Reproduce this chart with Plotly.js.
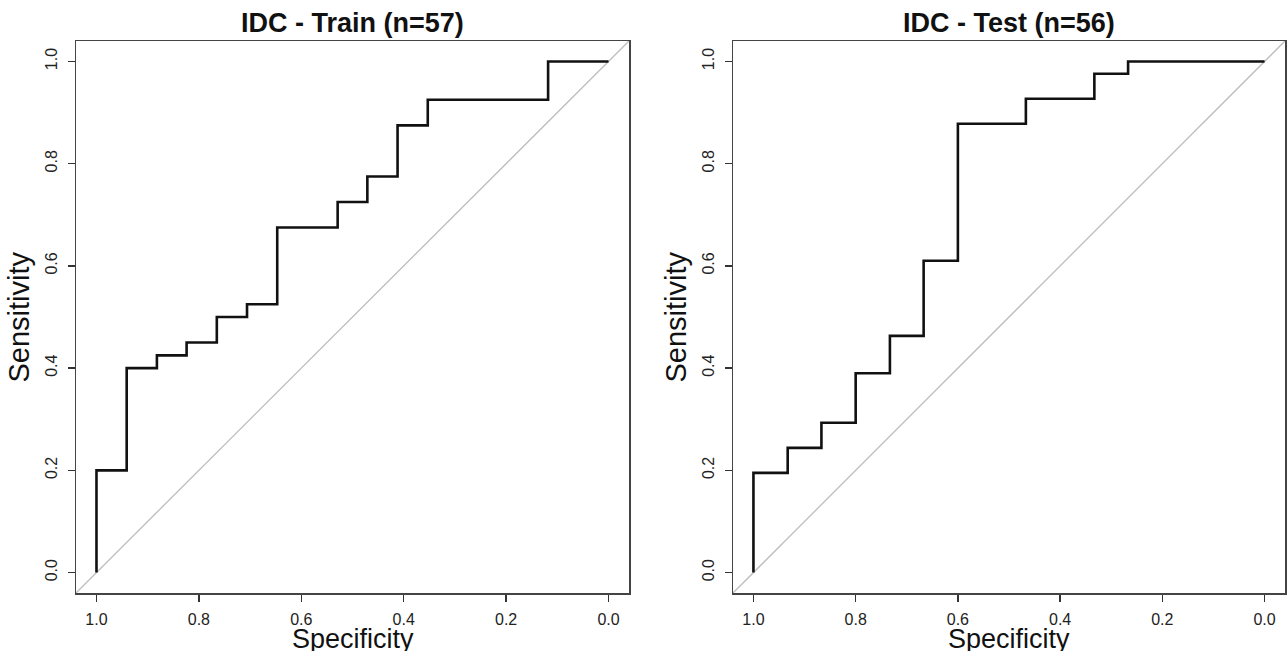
<!DOCTYPE html>
<html>
<head>
<meta charset="utf-8">
<script src="https://cdn.plot.ly/plotly-3.0.1.min.js"></script>
<style>
  html, body { margin: 0; padding: 0; background: #ffffff; }
  #chart { width: 1288px; height: 651px; }
</style>
</head>
<body>
<div id="chart"></div>
<script>
// ---- Data (ROC curve vertices) ----
const panelTitles = ["IDC - Train (n=57)", "IDC - Test (n=56)"];

const trainSpecificity = [1, 1, 0.941, 0.941, 0.882, 0.882, 0.824, 0.824, 0.765, 0.765, 0.706, 0.706,
                          0.647, 0.647, 0.529, 0.529, 0.471, 0.471, 0.412, 0.412, 0.353, 0.353, 0.118, 0.118, 0];
const trainSensitivity = [0, 0.2, 0.2, 0.4, 0.4, 0.425, 0.425, 0.45, 0.45, 0.5, 0.5, 0.525,
                          0.525, 0.675, 0.675, 0.725, 0.725, 0.775, 0.775, 0.875, 0.875, 0.925, 0.925, 1, 1];

const testSpecificity = [1, 1, 0.933, 0.933, 0.867, 0.867, 0.8, 0.8, 0.733, 0.733, 0.667, 0.667,
                         0.6, 0.6, 0.467, 0.467, 0.333, 0.333, 0.267, 0.267, 0];
const testSensitivity = [0, 0.195, 0.195, 0.244, 0.244, 0.293, 0.293, 0.39, 0.39, 0.463, 0.463, 0.61,
                         0.61, 0.878, 0.878, 0.927, 0.927, 0.976, 0.976, 1, 1];

const tickValues = [1.0, 0.8, 0.6, 0.4, 0.2, 0.0];
const tickLabels = ["1.0", "0.8", "0.6", "0.4", "0.2", "0.0"];
const xAxisLabel = "Specificity";
const yAxisLabel = "Sensitivity";

// ---- Styling ----
const FONT = "'Liberation Sans', Arial, Helvetica, sans-serif";
const xRange = [1.04, -0.04];
const yRange = [-0.04, 1.04];

function xAxis(domain, anchor) {
  return {
    anchor: anchor, domain: domain, range: xRange, autorange: false,
    tickmode: "array", tickvals: tickValues, ticktext: tickLabels,
    ticks: "outside", ticklen: 7, tickwidth: 1.4, tickcolor: "#333",
    tickfont: { family: FONT, size: 16, color: "#222" },
    ticklabelstandoff: 4,
    showgrid: false, zeroline: false,
    showline: true, mirror: true, linecolor: "#444", linewidth: 1.5,
    fixedrange: true
  };
}
function yAxis(anchor) {
  return {
    anchor: anchor, domain: [0, 1], range: yRange, autorange: false,
    tickmode: "array", tickvals: tickValues, ticktext: tickLabels,
    tickangle: -90,
    ticks: "outside", ticklen: 7, tickwidth: 1.4, tickcolor: "#333",
    tickfont: { family: FONT, size: 16, color: "#222" },
    ticklabelstandoff: 4,
    showgrid: false, zeroline: false,
    showline: true, mirror: true, linecolor: "#444", linewidth: 1.5,
    fixedrange: true
  };
}

const rocLine = { color: "#111111", width: 2.6 };

const traces = [
  { x: trainSpecificity, y: trainSensitivity, xaxis: "x", yaxis: "y",
    type: "scatter", mode: "lines", line: rocLine, name: panelTitles[0], hoverinfo: "x+y" },
  { x: testSpecificity, y: testSensitivity, xaxis: "x2", yaxis: "y2",
    type: "scatter", mode: "lines", line: rocLine, name: panelTitles[1], hoverinfo: "x+y" }
];

const diagShape = (xr, yr) => ({
  type: "line", xref: xr + " domain", yref: yr + " domain",
  x0: 0, y0: 0, x1: 1, y1: 1, layer: "below",
  line: { color: "#bdbdbd", width: 1.3 }
});

const titleAnn = (xr, text) => ({
  text: "<b>" + text + "</b>", xref: xr + " domain", x: 0.5, xanchor: "center",
  yref: "paper", y: 1.0326, yanchor: "middle", showarrow: false,
  font: { family: FONT, size: 27, color: "#111" }
});
const xTitleAnn = (xr, yr) => ({
  text: xAxisLabel, xref: xr + " domain", x: 0.5, xanchor: "center",
  yref: yr + " domain", y: 0, yanchor: "middle", yshift: -46, showarrow: false,
  font: { family: FONT, size: 27, color: "#111" }
});
const yTitleAnn = (xr, yr) => ({
  text: yAxisLabel, textangle: -90, xref: xr + " domain", x: 0, xanchor: "center", xshift: -57.5,
  yref: yr + " domain", y: 0.5, yanchor: "middle", showarrow: false,
  font: { family: FONT, size: 29, color: "#111" }
});

const layout = {
  width: 1288, height: 651,
  margin: { l: 76, r: 3, t: 41, b: 58 },
  paper_bgcolor: "#ffffff", plot_bgcolor: "#ffffff",
  showlegend: false,
  xaxis: xAxis([0, 553 / 1209], "y"),
  yaxis: yAxis("x"),
  xaxis2: xAxis([657 / 1209, 1], "y2"),
  yaxis2: yAxis("x2"),
  shapes: [diagShape("x", "y"), diagShape("x2", "y2")],
  annotations: [
    titleAnn("x", panelTitles[0]), titleAnn("x2", panelTitles[1]),
    xTitleAnn("x", "y"), xTitleAnn("x2", "y2"),
    yTitleAnn("x", "y"), yTitleAnn("x2", "y2")
  ]
};

Plotly.newPlot("chart", traces, layout, { displayModeBar: false, staticPlot: true });
</script>
</body>
</html>
